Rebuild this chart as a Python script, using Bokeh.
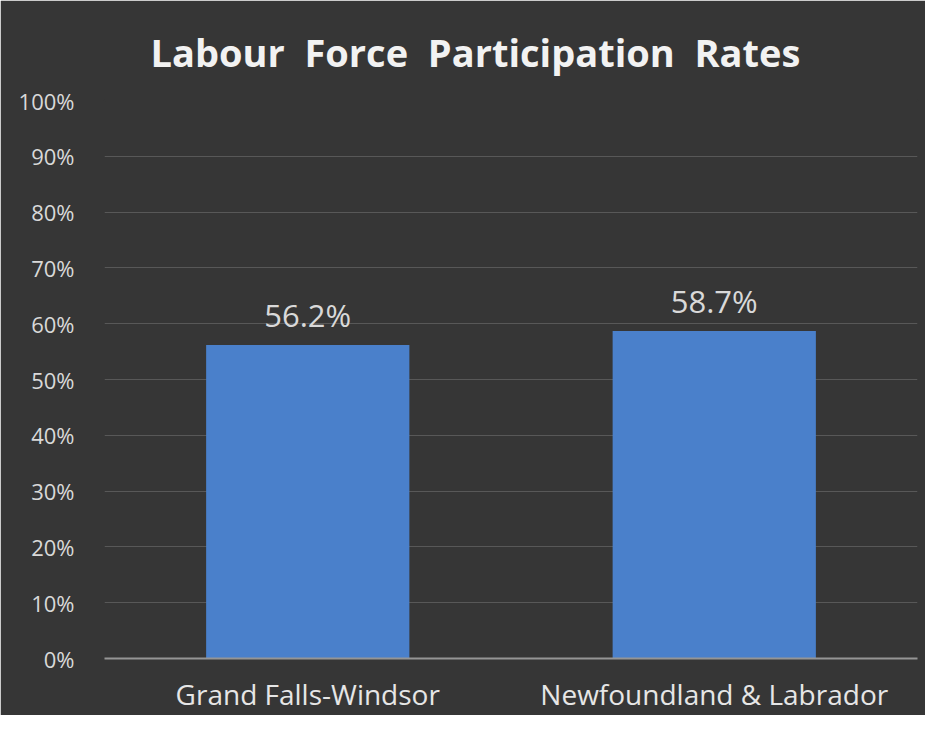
from bokeh.plotting import figure
from bokeh.models import ColumnDataSource, LabelSet, FixedTicker, Title
from bokeh.core.properties import value
from bokeh.embed import file_html
from bokeh.resources import INLINE

categories = ["Grand Falls-Windsor", "Newfoundland & Labrador"]
rates = [56.2, 58.7]
rate_labels = ["56.2%", "58.7%"]
tick_values = [0, 10, 20, 30, 40, 50, 60, 70, 80, 90, 100]
tick_labels = ["0%", "10%", "20%", "30%", "40%", "50%", "60%", "70%", "80%", "90%", "100%"]
title_text = "Labour\u00a0 Force\u00a0 Participation\u00a0 Rates"

W, H = 925, 715
FONT = "Open Sans"
BG = "#363636"

src = ColumnDataSource(dict(cat=categories, val=rates, lab=rate_labels))

p = figure(x_range=categories, y_range=(0, 100), width=W, height=H,
           output_backend="svg", toolbar_location=None)
p.title = Title(text=title_text, align="left", offset=46, standoff=46,
                text_color="#f2f2f2", text_font_size="38px", text_font_style="bold",
                text_font=FONT)
p.min_border_left = 104
p.min_border_right = 8
p.min_border_top = 100
p.min_border_bottom = 56
p.background_fill_color = BG
p.border_fill_color = BG
p.outline_line_color = BG
p.outline_line_width = 2

p.vbar(x="cat", top="val", width=0.5, source=src, fill_color="#4a80cb", line_color=None)

labels = LabelSet(x="cat", y="val", text="lab", source=src, text_align="center",
                  text_baseline="alphabetic", y_offset=18, text_color="#d9d9d9",
                  text_font_size="31px", text_font=value(FONT))
p.add_layout(labels)

p.yaxis.ticker = FixedTicker(ticks=tick_values)
p.yaxis.major_label_overrides = {v: l for v, l in zip(tick_values, tick_labels)}
p.yaxis.axis_line_color = None
p.yaxis.major_tick_line_color = None
p.yaxis.minor_tick_line_color = None
p.yaxis.major_label_text_color = "#d9d9d9"
p.yaxis.major_label_text_font_size = "22px"
p.yaxis.major_label_text_font = FONT
p.yaxis.major_label_standoff = 24

p.xaxis.axis_line_color = "#959595"
p.xaxis.axis_line_width = 2
p.xaxis.major_tick_line_color = None
p.xaxis.minor_tick_line_color = None
p.xaxis.major_label_text_color = "#e6e6e6"
p.xaxis.major_label_text_font_size = "28px"
p.xaxis.major_label_text_font = FONT
p.xaxis.major_label_text_line_height = 1.0
p.xaxis.major_label_standoff = 10

p.xgrid.grid_line_color = None
p.ygrid.grid_line_color = "#585858"
p.ygrid.grid_line_width = 1

open("out.html", "w").write(file_html(p, INLINE))
